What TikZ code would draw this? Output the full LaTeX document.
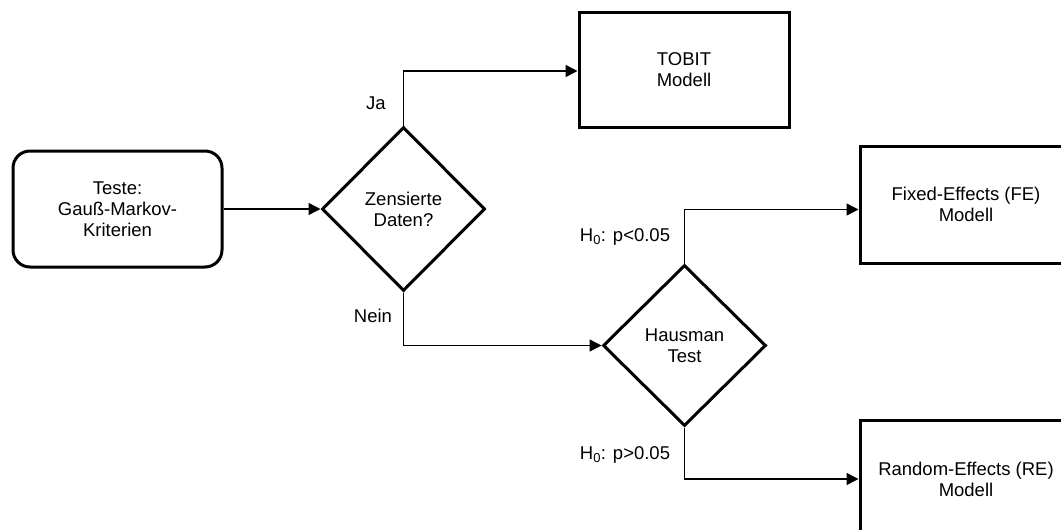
\documentclass[tikz,border=0pt]{standalone}
\usepackage{fontspec}
\setmainfont{Liberation Sans}
\usetikzlibrary{shapes.geometric,arrows.meta}
\begin{document}
\begin{tikzpicture}[x=1pt,y=-1pt,
  every node/.style={font=\fontsize{18.5}{21}\selectfont, align=center},
  box/.style={draw, line width=3pt, rectangle, inner sep=0pt},
  rbox/.style={box, rounded corners=17pt},
  dec/.style={draw, line width=3pt, diamond, inner sep=0pt},
  conn/.style={line width=1.4pt, -{Triangle[length=12pt,width=12pt]}},
  lbl/.style={inner sep=0pt}
]
\useasboundingbox (0,0) rectangle (1061,530);
\clip (0,0) rectangle (1061,530);
\fill[white] (0,0) rectangle (1061,530);
\node[rbox, minimum width=209pt, minimum height=116pt] (start) at (117.5,209) {Teste:\\Gauß-Markov-\\Kriterien};
\node[dec, minimum width=163pt, minimum height=164pt] (d1) at (403.5,209) {Zensierte\\Daten?};
\node[box, minimum width=210pt, minimum height=115pt] (tobit) at (684,69.5) {TOBIT\\Modell};
\node[dec, minimum width=163pt, minimum height=161pt] (haus) at (684.5,345.5) {Hausman\\Test};
\node[box, minimum width=212pt, minimum height=117pt] (fe) at (966,204.5) {Fixed-Effects (FE)\\Modell};
\node[box, minimum width=212pt, minimum height=118pt] (re) at (966,479) {Random-Effects (RE)\\Modell};

\draw[conn] (start.east) -- (d1.west);
\draw[conn] (d1.north) |- ([yshift=-1.5pt]tobit.west);
\draw[conn] (d1.south) |- (haus.west);
\draw[conn] (haus.north) |- ([yshift=-5pt]fe.west);
\draw[conn] (haus.south) |- (re.west);

\node[lbl] (ja) at (376,103) {Ja};
\node[lbl] (nein) at (373,316) {Nein};
\node[lbl] (hlt) at (625,237) {H\textsubscript{0}: p<0.05};
\node[lbl] (hgt) at (625,455) {H\textsubscript{0}: p>0.05};
\end{tikzpicture}
\end{document}
